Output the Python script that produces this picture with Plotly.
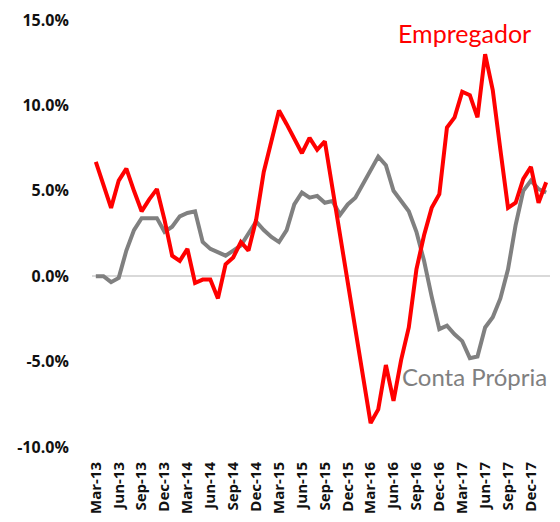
import plotly.graph_objects as go

months = []
mnames = ["Jan", "Feb", "Mar", "Apr", "May", "Jun", "Jul", "Aug", "Sep", "Oct", "Nov", "Dec"]
for y in range(13, 19):
    for m in mnames:
        months.append(f"{m}-{y}")
months = months[2:62]  # Mar-13 .. Feb-18

empregador = [6.7, 5.3, 4.0, 5.6, 6.3, 5.0, 3.8, 4.5, 5.1, 3.3,
              1.2, 0.9, 1.6, -0.4, -0.2, -0.2, -1.3, 0.7, 1.1, 2.0,
              1.5, 3.3, 6.1, 7.9, 9.7, 8.9, 8.0, 7.2, 8.1, 7.4,
              7.9, 5.2, 2.4, -0.3, -3.1, -5.8, -8.6, -7.8, -5.2, -7.3,
              -4.9, -3.0, 0.4, 2.4, 4.0, 4.8, 8.7, 9.3, 10.8, 10.6,
              9.3, 13.0, 10.9, 7.4, 4.0, 4.3, 5.7, 6.4, 4.3, 5.5]

conta_propria = [0.0, 0.0, -0.35, -0.1, 1.5, 2.7, 3.4, 3.4, 3.4, 2.6,
                 2.9, 3.5, 3.7, 3.8, 2.0, 1.6, 1.4, 1.2, 1.5, 1.8,
                 2.5, 3.2, 2.7, 2.3, 2.0, 2.7, 4.2, 4.9, 4.6, 4.7,
                 4.3, 4.4, 3.6, 4.2, 4.6, 5.4, 6.2, 7.0, 6.5, 5.0,
                 4.4, 3.8, 2.6, 0.9, -1.2, -3.1, -2.9, -3.4, -3.8, -4.8,
                 -4.7, -3.0, -2.4, -1.3, 0.4, 3.0, 5.0, 5.6, 5.1, 4.9]

tick_labels = months[0:58:3]
y_ticks = [-10, -5, 0, 5, 10, 15]
y_tick_text = ["-10.0%", "-5.0%", "0.0%", "5.0%", "10.0%", "15.0%"]

fig = go.Figure()
fig.add_trace(go.Scatter(x=months, y=conta_propria, mode="lines", name="Conta Própria",
                         line=dict(color="#808080", width=4)))
fig.add_trace(go.Scatter(x=months, y=empregador, mode="lines", name="Empregador",
                         line=dict(color="#FF0000", width=4)))

fig.add_annotation(text="Empregador", xref="paper", yref="paper", x=0.8135, y=0.9696,
                   xanchor="center", yanchor="middle",
                   showarrow=False, font=dict(family="Lato", size=25, color="#FF0000"))
fig.add_annotation(text="Conta Própria", xref="paper", yref="paper", x=0.9975, y=0.1650,
                   xanchor="right", yanchor="middle",
                   showarrow=False, font=dict(family="Lato", size=24, color="#808080"))

# page body has an 8px margin, so the figure is sized/placed to land on the 560x522 view
fig.update_layout(
    width=552, height=514,
    margin=dict(l=84, r=9.5, t=12, b=74.5, autoexpand=False),
    plot_bgcolor="white", paper_bgcolor="white",
    showlegend=False,
    font=dict(family="Open Sans", color="#111111"),
)
fig.update_xaxes(type="category", categoryorder="array", categoryarray=months,
                 range=[-0.5, 59.5], tickvals=tick_labels, ticktext=tick_labels,
                 tickangle=-90, showgrid=False, zeroline=False, showline=False,
                 automargin=False,
                 ticks="outside", ticklen=8, tickcolor="rgba(0,0,0,0)",
                 tickfont=dict(family="Open Sans", size=15, color="#111111", weight="bold"))
fig.update_yaxes(range=[-10, 15], tickvals=y_ticks, ticktext=y_tick_text,
                 showgrid=False, zeroline=True, zerolinecolor="#d9d9d9", zerolinewidth=1.5,
                 showline=False, automargin=False,
                 ticks="outside", ticklen=19, tickcolor="rgba(0,0,0,0)",
                 tickfont=dict(family="Open Sans", size=16, color="#111111", weight="bold"))

fig.write_html("out.html")
